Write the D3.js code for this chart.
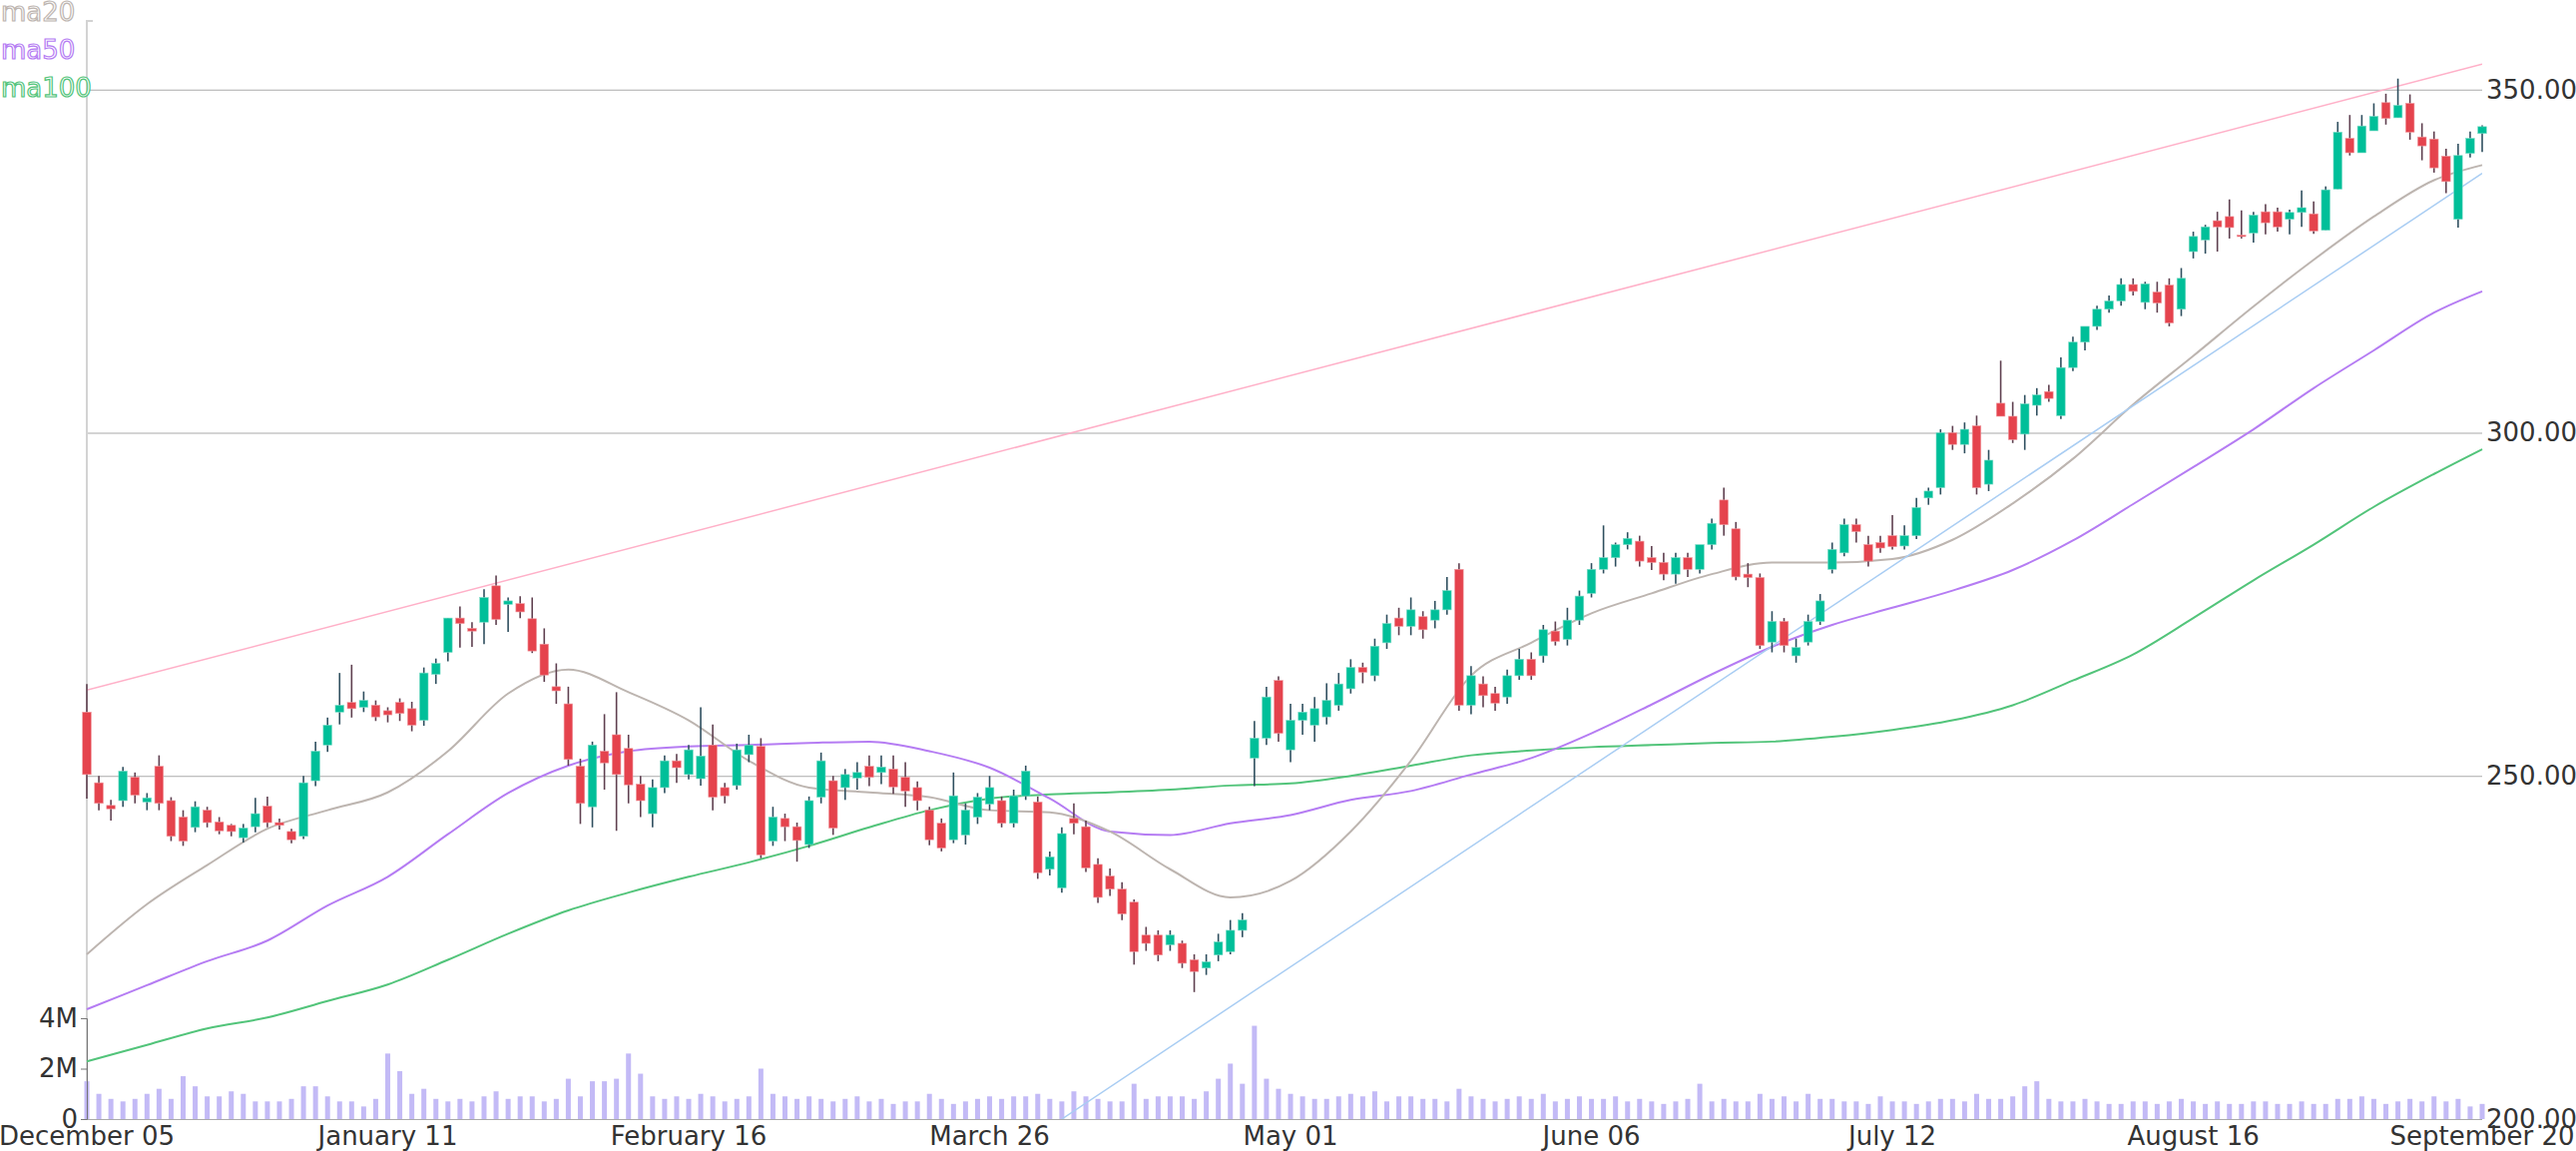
<!DOCTYPE html>
<html><head><meta charset="utf-8">
<script src="https://cdn.jsdelivr.net/npm/d3@7/dist/d3.min.js"></script>
<style>html,body{margin:0;padding:0;background:#fff;overflow:hidden}</style>
</head><body><svg id="c" width="2581" height="1153"></svg>
<script>
// ---- data ----
const firstDay = "2017-12-05";
const holidays = ["2017-12-25","2018-01-01","2018-01-15","2018-02-19","2018-03-30","2018-05-28","2018-07-04","2018-09-03"];
const tickIndex = [0,25,50,75,100,125,150,175,199];
const priceTicks = [200,250,300,350];
const volTicks = [0,2,4];
// [open, high, low, close]
const ohlc = [
[259.3,263.4,246.7,250.2],[249.0,250.0,245.0,246.0],[245.7,246.5,243.5,245.2],[246.4,251.3,245.5,250.7],[249.8,250.5,246.0,247.2],
[246.2,247.5,245.0,246.8],[251.4,253.0,245.0,246.0],[246.4,246.9,240.5,241.2],[244.0,245.0,239.8,240.5],[242.5,246.3,241.8,245.5],
[245.0,245.5,242.5,243.2],[243.3,244.0,241.5,242.0],[242.8,243.0,241.2,241.9],[241.0,243.0,240.3,242.4],[242.6,246.8,241.8,244.5],
[245.6,247.0,242.5,243.2],[243.2,243.8,242.2,242.8],[241.9,242.3,240.2,240.7],[241.2,250.0,240.8,249.0],[249.3,255.0,248.5,253.6],
[254.5,258.5,253.5,257.4],[259.3,265.0,257.5,260.3],[260.7,266.2,258.5,259.8],[260.0,262.3,259.3,261.0],[260.3,261.0,258.0,258.6],
[259.5,260.0,257.8,258.9],[260.7,261.3,258.0,259.1],[259.8,260.8,256.5,257.4],[258.1,265.8,257.3,265.0],[264.8,267.1,263.4,266.4],
[268.0,273.0,266.7,273.0],[273.0,274.7,268.7,272.2],[271.5,272.4,268.8,271.1],[272.4,277.2,269.2,276.0],[277.7,279.2,272.0,272.8],
[275.0,276.0,271.0,275.5],[275.1,276.2,273.0,273.9],[272.9,276.0,267.9,268.2],[269.2,271.5,263.7,264.7],[263.0,266.4,260.5,262.4],
[260.5,263.0,251.5,252.4],[251.4,252.5,243.0,246.0],[245.5,255.0,242.5,254.5],[253.6,259.0,248.0,251.9],[256.0,262.2,242.0,250.2],
[254.0,256.0,246.0,248.7],[248.8,250.0,244.0,246.4],[244.5,249.5,242.5,248.3],[248.3,253.0,247.5,252.2],[252.2,253.2,249.0,251.2],
[250.2,254.5,249.5,253.8],[249.6,260.0,248.6,252.9],[254.5,257.5,245.0,246.9],[248.3,249.0,246.0,247.1],[248.6,254.7,248.0,253.8],
[253.1,256.0,252.0,254.5],[254.3,255.5,238.0,238.5],[240.5,245.5,239.8,244.0],[243.8,244.5,240.5,242.6],[242.6,243.2,237.5,240.6],
[240.0,247.0,239.5,246.4],[246.9,253.4,246.0,252.2],[249.3,250.0,241.4,242.4],[248.3,251.0,246.5,250.2],[249.7,252.0,248.0,250.5],
[251.4,253.0,248.5,249.8],[250.5,253.0,248.8,251.3],[251.0,253.0,247.4,248.4],[249.8,252.0,245.5,247.8],[248.3,249.2,245.0,246.4],
[245.0,245.5,239.9,240.7],[243.1,243.8,239.0,239.5],[240.7,250.5,240.2,247.1],[241.4,246.0,240.0,245.0],[244.0,247.5,243.0,246.9],
[245.9,250.0,245.0,248.3],[246.4,247.0,242.5,243.1],[243.1,248.0,242.5,247.1],[247.1,251.5,246.5,250.7],[246.2,247.0,235.0,235.9],
[236.4,239.0,235.5,238.2],[233.7,242.5,233.0,241.6],[243.8,246.0,241.5,243.1],[242.6,243.5,236.0,236.6],[237.1,238.0,231.5,232.3],
[235.4,236.5,232.5,233.5],[233.5,234.5,229.0,229.9],[231.6,232.0,222.5,224.4],[226.8,228.0,224.5,225.6],[226.8,227.5,223.0,223.9],
[225.4,227.5,224.5,226.8],[225.6,226.0,222.0,222.7],[223.2,224.0,218.5,221.5],[222.0,224.0,221.0,222.9],[223.9,227.0,223.0,225.8],
[224.4,229.0,224.0,227.5],[227.5,230.0,226.5,229.0],[252.6,258.0,248.5,255.5],[255.5,263.0,254.5,261.5],[263.9,264.5,255.0,256.2],
[253.8,260.5,252.0,258.1],[258.1,260.5,256.0,259.3],[257.4,261.5,255.0,259.8],[258.6,263.5,257.5,261.0],[260.3,265.0,259.5,263.4],
[262.7,267.0,262.0,265.8],[265.8,266.5,263.5,265.1],[264.6,270.0,263.8,268.9],[269.4,273.5,268.5,272.2],[273.0,274.5,270.5,271.8],
[271.8,276.0,270.5,274.2],[273.2,274.0,270.0,271.3],[272.7,275.5,271.5,274.2],[274.2,279.0,273.5,277.0],[280.1,281.0,259.5,260.3],
[260.3,266.0,259.0,264.6],[263.4,264.5,260.0,261.7],[262.0,263.0,259.5,260.6],[261.5,265.5,260.5,264.6],[264.6,268.5,264.0,267.0],
[267.0,268.0,264.0,264.6],[267.5,272.0,266.5,271.3],[271.1,272.5,269.0,269.6],[269.9,274.5,269.0,272.7],[272.7,277.0,272.0,276.2],
[276.6,281.0,276.0,280.1],[280.1,286.5,279.5,281.8],[281.8,284.0,280.5,283.7],[283.7,285.5,283.0,284.6],[284.2,285.0,280.5,281.3],
[281.8,283.5,280.0,281.1],[281.1,282.5,278.5,279.4],[279.4,282.5,278.0,281.8],[281.8,282.5,279.0,280.1],[280.1,283.5,279.5,283.7],
[283.7,287.5,283.0,286.8],[290.2,292.0,285.0,286.6],[286.0,287.0,278.5,279.0],[279.4,281.0,277.5,278.9],[278.9,279.5,268.5,269.0],
[269.5,274.0,268.0,272.5],[272.5,273.0,268.0,269.0],[267.5,270.0,266.5,268.7],[269.5,273.5,269.0,272.5],[272.5,276.5,272.0,275.5],
[280.1,284.0,279.5,283.0],[282.5,287.5,282.0,286.6],[286.6,287.5,284.0,285.6],[283.7,285.0,280.5,281.3],[284.0,285.0,282.5,283.2],
[285.0,288.0,283.0,283.4],[283.5,286.5,283.0,285.0],[285.0,290.5,284.5,289.1],[290.5,292.0,289.5,291.5],[292.0,300.5,291.0,300.0],
[300.0,301.0,297.5,298.3],[298.3,301.5,297.0,300.5],[301.0,302.5,291.0,292.0],[292.5,297.5,291.5,296.0],[304.3,310.5,303.0,302.4],
[302.4,304.5,298.5,299.0],[299.8,305.5,297.5,304.2],[304.0,306.5,302.5,305.5],[306.0,307.0,304.5,305.0],[302.5,311.0,302.0,309.5],
[309.5,314.0,309.0,313.2],[313.2,315.5,312.0,315.5],[315.5,318.5,315.0,318.0],[318.0,320.0,317.5,319.2],[319.2,322.5,318.5,321.6],
[321.6,322.5,320.0,320.6],[319.0,322.0,318.0,321.7],[320.5,322.0,317.5,318.9],[321.5,322.5,315.5,316.0],[318.0,324.0,317.0,322.5],
[326.4,329.3,325.4,328.6],[328.1,330.3,326.1,330.0],[330.9,332.2,326.4,330.0],[331.5,334.0,328.3,329.9],[328.8,332.4,328.3,328.6],
[329.1,332.2,327.7,331.7],[332.2,333.3,328.9,330.6],[332.2,332.8,329.3,330.0],[331.1,332.5,328.9,332.1],[332.1,335.3,330.0,332.8],
[331.9,333.7,329.0,329.4],[329.5,335.9,329.5,335.4],[335.5,345.3,335.5,343.8],[342.9,346.3,340.4,340.8],[340.8,346.3,340.8,344.7],
[344.0,348.0,344.0,346.1],[348.1,349.4,344.9,345.8],[345.9,351.6,345.9,347.7],[348.0,349.3,342.7,343.8],[343.1,345.1,339.7,341.8],
[342.8,343.9,337.9,338.6],[340.3,341.4,334.9,336.6],[331.1,342.1,329.9,340.4],[340.7,343.9,340.1,342.9],[343.6,344.8,340.9,344.6]
];
// volume in millions
const volume = [
1.5,1.0,0.8,0.7,0.8,1.0,1.2,0.8,1.7,1.3,0.9,0.9,1.1,1.0,0.7,0.7,0.7,0.8,1.3,1.3,0.9,0.7,0.7,0.5,0.8,
2.6,1.9,1.0,1.2,0.8,0.7,0.8,0.7,0.9,1.1,0.8,0.9,0.9,0.7,0.8,1.6,0.9,1.5,1.5,1.6,2.6,1.8,0.9,0.8,0.9,
0.8,1.0,0.9,0.7,0.8,0.9,2.0,1.0,0.9,0.8,0.9,0.8,0.7,0.8,0.9,0.7,0.8,0.6,0.7,0.7,1.0,0.8,0.6,0.7,0.8,
0.9,0.8,0.9,0.9,1.0,0.8,0.7,1.1,0.9,0.8,0.7,0.7,1.4,0.8,0.9,0.9,0.9,0.8,1.1,1.6,2.2,1.4,3.7,1.6,1.2,
1.0,0.9,0.8,0.8,0.9,1.0,0.9,1.1,0.7,0.9,0.9,0.8,0.8,0.7,1.2,0.9,0.8,0.7,0.8,0.9,0.8,1.0,0.7,0.8,0.9,
0.8,0.8,0.9,0.7,0.8,0.7,0.6,0.7,0.8,1.4,0.7,0.8,0.7,0.7,1.0,0.8,0.9,0.7,1.0,0.8,0.8,0.7,0.7,0.6,0.9,
0.7,0.7,0.6,0.7,0.8,0.8,0.7,1.0,0.8,0.8,0.9,1.3,1.5,0.8,0.7,0.7,0.8,0.7,0.6,0.6,0.7,0.7,0.6,0.7,0.8,
0.7,0.6,0.7,0.6,0.6,0.7,0.7,0.6,0.6,0.7,0.6,0.6,0.8,0.8,0.9,0.8,0.6,0.7,0.8,0.7,0.9,0.7,0.8,0.5,0.6
];
const maIndex = [0,5,10,15,20,25,30,35,40,45,50,55,60,65,70,75,80,85,90,95,100,105,110,115,120,125,130,135,140,145,150,155,160,165,170,175,180,185,190,195,199];
const ma20 = [224,231.3,237,242.3,245,247.6,253.6,262,265.5,262.2,258.1,252.2,248.3,247.6,246.9,245,244.7,241.9,236.4,232.3,234.7,241.9,252.2,264.6,269.4,273.7,276.6,279.4,281.1,281.1,281.6,284.4,289.7,296.2,304.1,311.2,318.4,325.2,331.5,336.8,339.0];
const ma50 = [216,219.5,223,226,231.1,235.3,241.5,247.5,251.5,253.6,254.3,254.5,254.8,255,253.6,251.2,246.7,241.9,241.4,243.1,244.3,246.5,247.8,250.2,252.6,256.2,260.4,264.8,268.8,272,274.5,277,280,284.3,289.6,295,300.5,306.5,312,317.5,320.6];
const ma100 = [208.4,210.8,213.2,214.8,217.2,219.6,223.2,227,230.4,233,235.3,237.4,239.8,242.5,245,246.7,247.3,247.6,248,248.6,248.9,250,251.5,253,253.7,254.2,254.5,254.8,255,255.7,256.7,258.1,260.3,263.9,267.7,273,278.5,283.7,289.2,294,297.6];
const trendUpper = [[0,262.5],[199,353.7]];
const trendLower = [[81,200],[199,337.8]];
const legendNames = ["ma20","ma50","ma100"];

// ---- build dates ----
const parse = d3.utcParse("%Y-%m-%d"), fmtKey = d3.utcFormat("%Y-%m-%d");
const hol = new Set(holidays);
const dates = [];
for (let d = parse(firstDay); dates.length < ohlc.length; d = d3.utcDay.offset(d, 1)) {
  const wd = d.getUTCDay();
  if (wd === 0 || wd === 6 || hol.has(fmtKey(d))) continue;
  dates.push(d);
}
const fmtLabel = d3.utcFormat("%B %d");

// ---- layout ----
const W = 2581, H = 1153;
const m = {top: 21, right: 94, bottom: 32, left: 87};
const iw = W - m.left - m.right, ih = H - m.top - m.bottom;
const svg = d3.select("#c");
const FONT = "DejaVu Sans, sans-serif";

const x = d3.scaleLinear().domain([0, ohlc.length - 1]).range([m.left, m.left + iw]);
const y = d3.scaleLinear().domain([200, 360]).range([m.top + ih, m.top]);
const yv = d3.scaleLinear().domain([0, 4]).range([m.top + ih, m.top + ih - 101]);

const colors = {ma20: "#bdb5b0", ma50: "#b57cf3", ma100: "#52c47a", up: "#00bf99", down: "#e5434d"};

svg.append("defs").append("clipPath").attr("id", "clip")
  .append("rect").attr("x", m.left).attr("y", m.top).attr("width", iw).attr("height", ih);

// gridlines + right axis
const ra = svg.append("g").attr("transform", `translate(${m.left + iw},0)`)
  .call(d3.axisRight(y).tickValues(priceTicks).tickSize(-iw).tickPadding(4).tickFormat(d3.format(".2f")));
ra.select(".domain").remove();
ra.selectAll(".tick line").attr("stroke", "#aaa").attr("stroke-width", 1.2);
ra.selectAll("text").attr("font-family", FONT).attr("font-size", 26).attr("fill", "#333");

// left axis line
svg.append("path").attr("d", `M${m.left + 6},${m.top}H${m.left}V${m.top + ih}`)
  .attr("fill", "none").attr("stroke", "#d3d3d3").attr("stroke-width", 2);

// volume bars
svg.append("g").selectAll("rect").data(volume).join("rect")
  .attr("x", (d, i) => x(i) - 2.5).attr("width", 5)
  .attr("y", d => yv(d)).attr("height", d => yv(0) - yv(d))
  .attr("fill", "#b9aef5").attr("opacity", 0.85);

// volume axis
const va = svg.append("g").attr("transform", `translate(${m.left},0)`)
  .call(d3.axisLeft(yv).tickValues(volTicks).tickSize(6).tickFormat(d => d === 0 ? "0" : d + "M"));
va.select(".domain").attr("stroke", "#777");
va.selectAll(".tick line").attr("stroke", "#777");
va.selectAll("text").attr("font-family", FONT).attr("font-size", 26).attr("fill", "#333");

// x axis labels
const xa = svg.append("g");
xa.selectAll("text").data(tickIndex).join("text")
  .attr("x", d => x(d)).attr("y", H - 6).attr("text-anchor", "middle")
  .attr("font-family", FONT).attr("font-size", 26).attr("fill", "#333")
  .text(d => fmtLabel(dates[d]));

// moving averages
const line = d3.line().x(d => x(d[0])).y(d => y(d[1])).curve(d3.curveMonotoneX);
[["ma100", ma100], ["ma50", ma50], ["ma20", ma20]].forEach(([k, arr]) => {
  svg.append("path").datum(maIndex.map((i, j) => [i, arr[j]]))
    .attr("d", line).attr("fill", "none").attr("stroke", colors[k]).attr("stroke-width", 2);
});

// trend lines
const tl = d3.line().x(d => x(d[0])).y(d => y(d[1]));
svg.append("path").datum(trendUpper).attr("d", tl).attr("clip-path", "url(#clip)")
  .attr("fill", "none").attr("stroke", "#ffb0c8").attr("stroke-width", 1.5);
svg.append("path").datum(trendLower).attr("d", tl).attr("clip-path", "url(#clip)")
  .attr("fill", "none").attr("stroke", "#a9cdf3").attr("stroke-width", 1.5);

// candles
const cg = svg.append("g").selectAll("g").data(ohlc).join("g");
cg.append("line")
  .attr("x1", (d, i) => x(i)).attr("x2", (d, i) => x(i))
  .attr("y1", d => y(d[1])).attr("y2", d => y(d[2]))
  .attr("stroke", d => d[3] >= d[0] ? "#2f4f5f" : "#5f4050").attr("stroke-width", 1.6);
cg.append("rect")
  .attr("x", (d, i) => x(i) - 4.3).attr("width", 8.6)
  .attr("y", d => y(Math.max(d[0], d[3])))
  .attr("height", d => Math.max(1.5, Math.abs(y(d[0]) - y(d[3]))))
  .attr("fill", d => d[3] >= d[0] ? colors.up : colors.down)
  .attr("stroke", d => d[3] >= d[0] ? "#7fdcc8" : "#f09aa0").attr("stroke-width", 0.6);

// legend
svg.append("g").selectAll("text").data(legendNames).join("text")
  .attr("x", 1).attr("y", (d, i) => 21 + i * 38)
  .attr("font-family", FONT).attr("font-size", 26)
  .attr("fill", "#fff").attr("stroke", d => colors[d]).attr("stroke-width", 1.2)
  .text(d => d);
</script></body></html>
